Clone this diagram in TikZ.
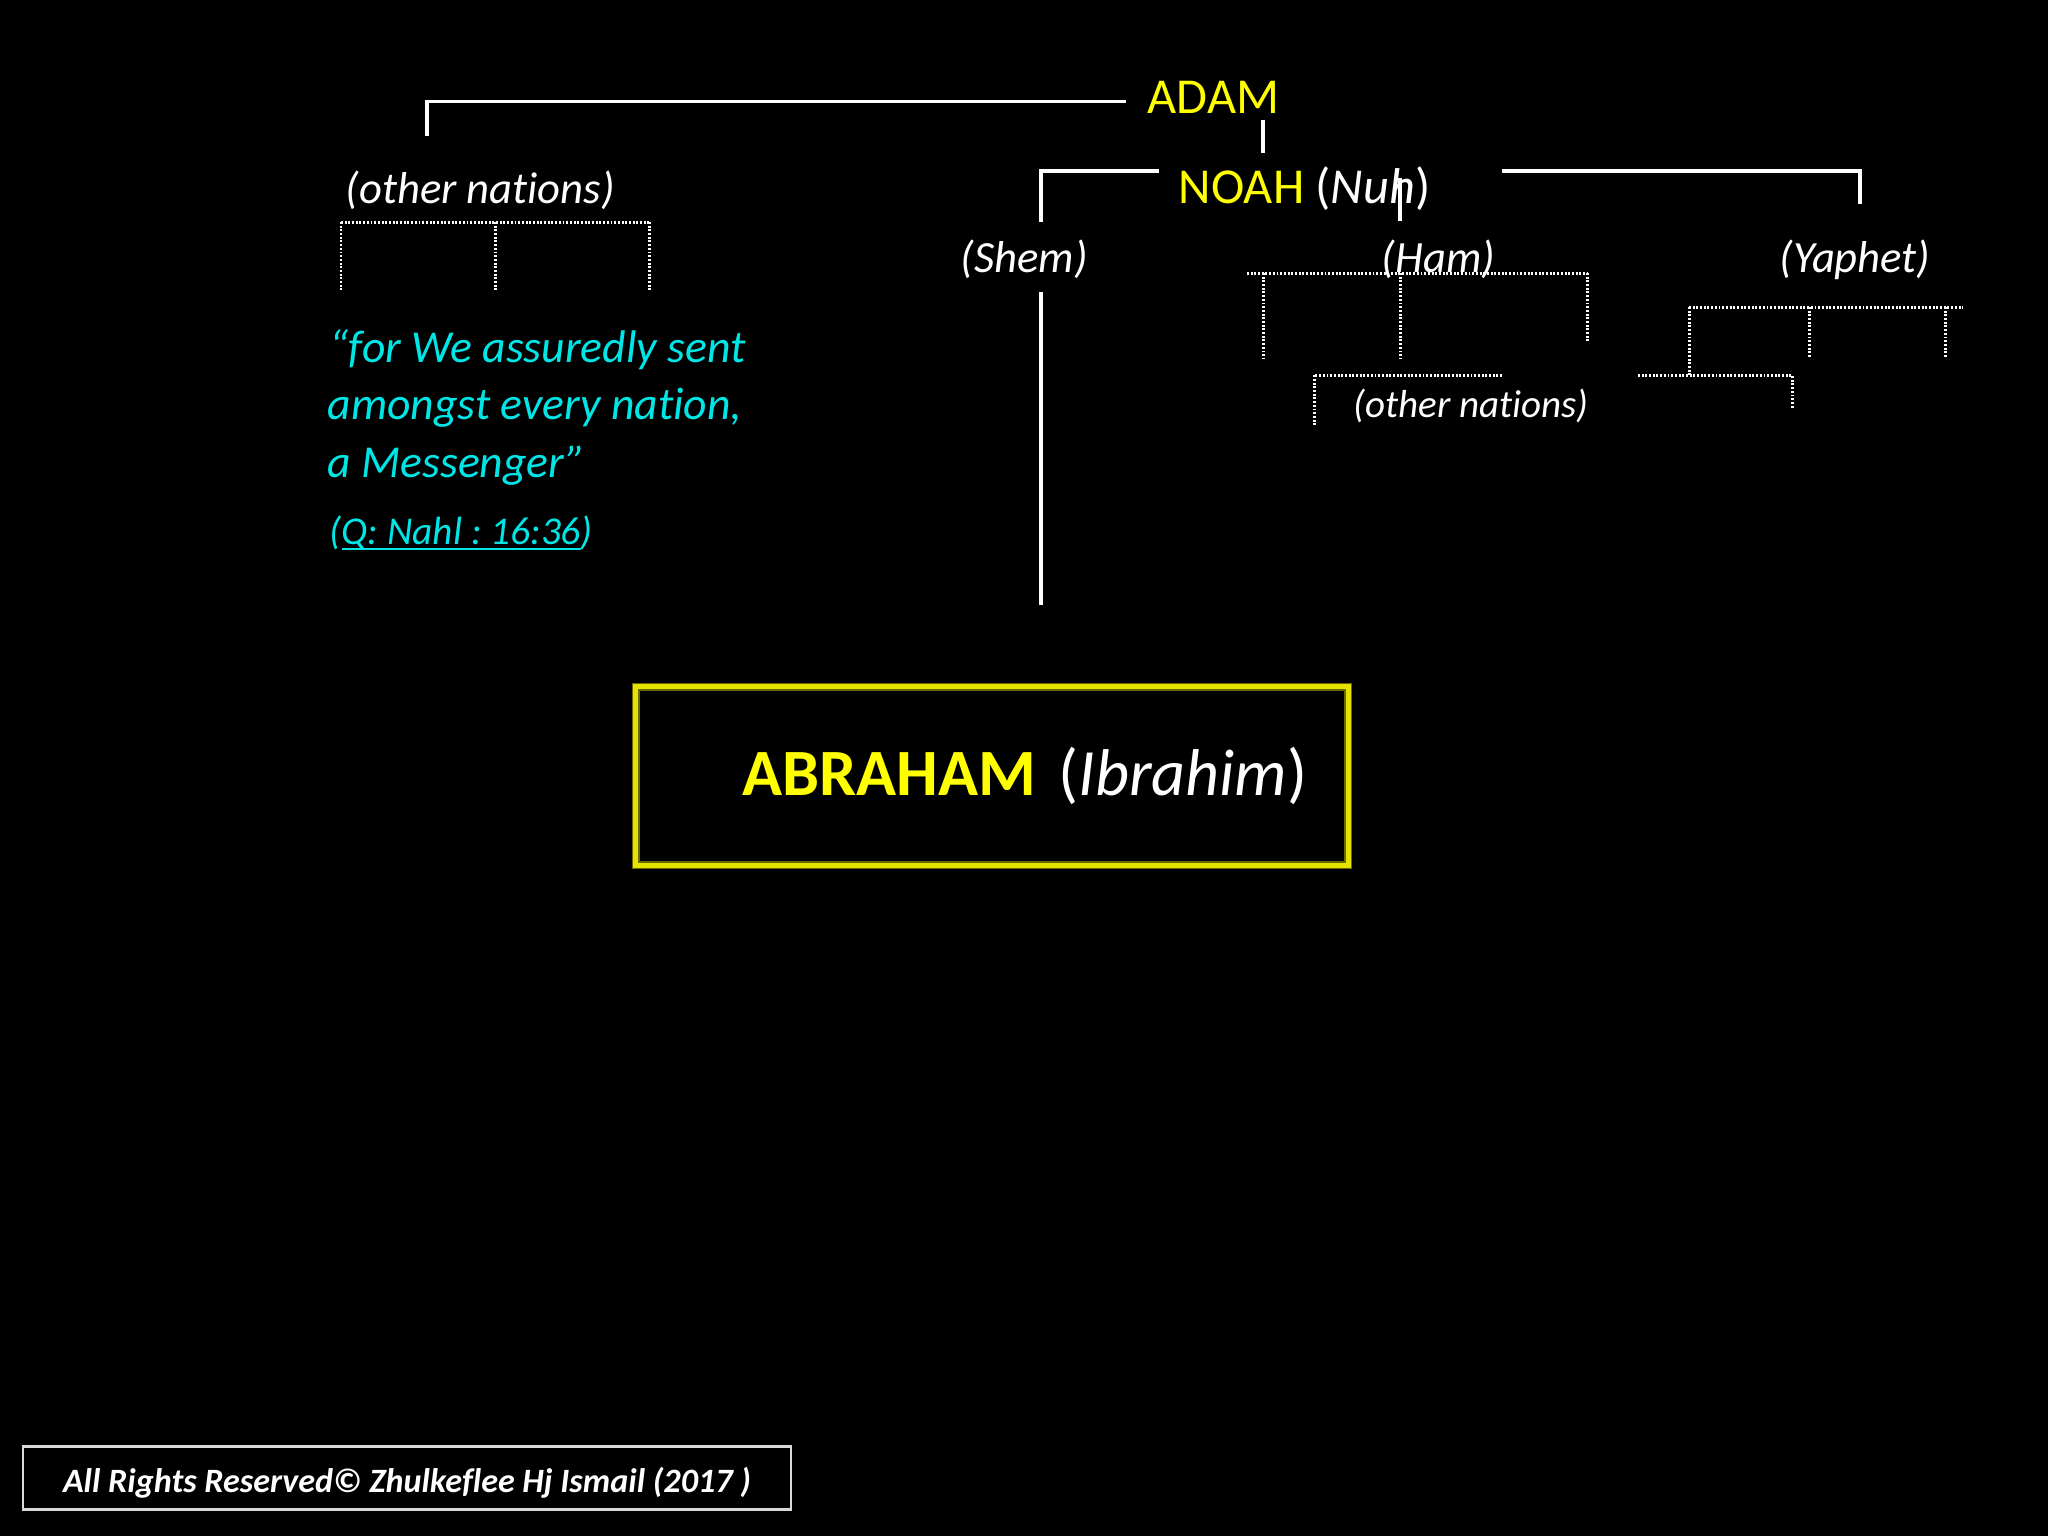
\documentclass[tikz,border=0pt]{standalone}
\usepackage{fontspec}
\setmainfont{Carlito}[Ligatures={NoCommon,NoContextual}]
\usetikzlibrary{calc}
\frenchspacing

\definecolor{adamyellow}{RGB}{255,255,0}
\definecolor{versecyan}{RGB}{0,230,230}
\definecolor{boxyellow}{RGB}{228,228,0}
\definecolor{boxglow}{RGB}{105,105,0}

\begin{document}
\begin{tikzpicture}[x=0.01cm,y=-0.01cm]
\tikzstyle{tree} = [white,line width=0.9pt]
\tikzstyle{tribe} = [white,line width=0.85pt,dash pattern=on 0.55pt off 0.5pt]
\tikzstyle{prophet} = [inner sep=0pt,anchor=base west,text=adamyellow,font=\fontsize{14.3}{17}\selectfont]
\tikzstyle{son} = [inner sep=0pt,anchor=base west,text=white,font=\fontsize{12.7}{15}\selectfont\itshape]
\tikzstyle{verse} = [inner sep=0pt,anchor=base west,text=versecyan,font=\fontsize{13}{15}\selectfont\itshape]

\fill[black] (0,0) rectangle (2048,1536);
\useasboundingbox (0,0) rectangle (2048,1536);

% names
\node[prophet] (adam) at (1147,113) {ADAM};
\node[prophet] (noah) at (1178,203) {NOAH \textcolor{white}{(\textit{Nuh})}};
\node[son] (shem) at (960,272) {(Shem)};
\node[son] (ham) at (1381,272) {(Ham)};
\node[son] (yaphet) at (1779,272) {(Yaphet)};
\node[son] (othA) at (345,203) {(other nations)};
\node[son,font=\fontsize{11.1}{13}\selectfont\itshape] (othB) at (1353,417) {(other nations)};

% verse
\node[verse] (verse1) at (329,362) {“for We assuredly sent};
\node[verse] (verse2) at (327,419) {amongst every nation,};
\node[verse] (verse3) at (327,477) {a Messenger”};
\node[verse,font=\fontsize{11.2}{13}\selectfont\itshape] (ref) at (329,544) {(\underline{\smash{Q: Nahl : 16:36}})};

\node[draw=boxyellow,line width=1.4pt,preaction={draw=boxglow,line width=2.4pt},
  minimum width=7.12cm,minimum height=1.78cm,inner xsep=0.41cm,inner ysep=0pt,
  text width=6.3cm,align=right,font=\fontsize{18.8}{22}\selectfont] (abr) at (992,776)
  {\textbf{\textcolor{adamyellow}{ABRAHAM}} \textcolor{white}{(\textit{Ibrahim})}};

\node[draw=white!85!black,line width=0.6pt,minimum width=7.67cm,minimum height=0.63cm,
  inner sep=0pt,text height=8pt,text depth=0pt,text=white,
  font=\fontsize{9.7}{11}\selectfont\bfseries\itshape] (rights) at (407,1478)
  {All Rights Reserved© Zhulkeflee Hj Ismail (2017 )};

% solid lines
\coordinate (othAtop) at (427,136);
\coordinate (noahstem) at (1263,153);
\coordinate (shemtop) at (1041,222);
\coordinate (hamtop) at (1400,221);
\coordinate (yaphettop) at (1860,204);
\coordinate (abrtop) at (1041,605);
\draw[tree] ($(adam.west)+(-21,5)$) -| (othAtop);
\draw[tree] ($(adam.base west)+(116,7)$) -- (noahstem);
\draw[tree] ($(noah.base west)+(-19,-32)$) -| (shemtop);
\draw[tree] ($(noah.base west)+(324,-32)$) -| (yaphettop);
\draw[tree] ($(noah.base west)+(222,-25)$) -- (hamtop);
\draw[tree] ($(shem.base west)+(81,20)$) -- (abrtop);

% dotted brackets
\coordinate (lb) at (341,222);
\draw[tribe] (lb) -- ++(308,0);
\foreach \dx in {0,154,308}
  \draw[tribe] ($(lb)+(\dx,0)$) -- ++(0,68);

\coordinate (hb) at (1247,273);
\draw[tribe] (hb) -- ++(340,0);
\draw[tribe] ($(hb)+(16,0)$) -- ++(0,85);
\draw[tribe] ($(hb)+(153,0)$) -- ++(0,85);
\draw[tribe] ($(hb)+(340,0)$) -- ++(0,69);
\coordinate (hl) at (1502,375);
\draw[tribe] (hl) -| ++(-188,51);

\coordinate (yb) at (1689,307);
\draw[tribe] (yb) -- ++(274,0);
\draw[tribe] (yb) -- ++(0,68);
\draw[tribe] ($(yb)+(120,0)$) -- ++(0,51);
\draw[tribe] ($(yb)+(256,0)$) -- ++(0,51);
\coordinate (yl) at (1638,375);
\draw[tribe] (yl) -| ++(154,34);
\end{tikzpicture}
\end{document}
